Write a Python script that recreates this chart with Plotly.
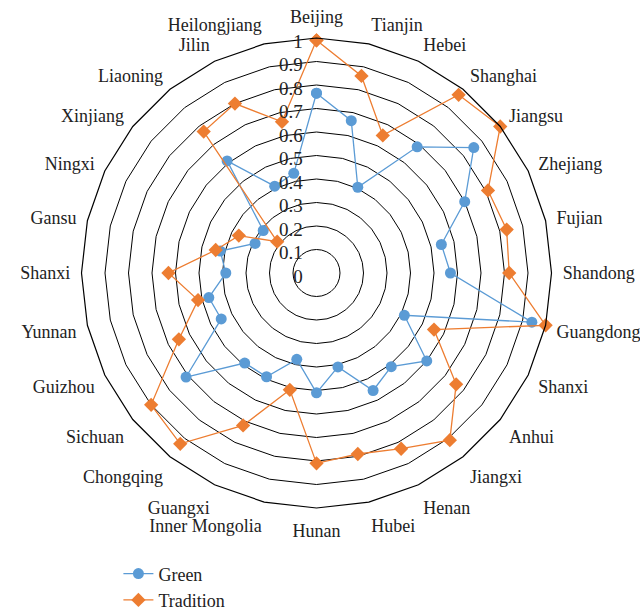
import plotly.graph_objects as go

categories = ["Beijing", "Tianjin", "Hebei", "Shanghai", "Jiangsu", "Zhejiang", "Fujian",
              "Shandong", "Guangdong", "Shanxi ", "Anhui", "Jiangxi", "Henan", "Hubei",
              "Hunan", "Inner Mongolia", "Guangxi", "Chongqing", "Sichuan", "Guizhou",
              "Yunnan", "Shanxi", "Gansu", "Ningxi", "Xinjiang", "Liaoning", "Jilin",
              "Heilongjiang"]

green = [0.765, 0.665, 0.405, 0.687, 0.856, 0.70, 0.545, 0.57, 0.94, 0.415, 0.60, 0.51,
         0.555, 0.41, 0.51, 0.377, 0.49, 0.49, 0.71, 0.45, 0.47, 0.386, 0.42, 0.29,
         0.29, 0.61, 0.41, 0.435]

tradition = [0.99, 0.86, 0.65, 0.97, 1.0, 0.81, 0.83, 0.82, 1.0, 0.555, 0.76, 0.91,
             0.83, 0.79, 0.81, 0.51, 0.72, 0.93, 0.90, 0.65, 0.517, 0.63, 0.44, 0.367,
             0.214, 0.77, 0.80, 0.66]

radial_ticks = [0, 0.1, 0.2, 0.3, 0.4, 0.5, 0.6, 0.7, 0.8, 0.9, 1]

FONT = "Liberation Serif"

fig = go.Figure()
fig.add_trace(go.Scatterpolar(
    r=green + green[:1], theta=categories + categories[:1], name="Green",
    mode="lines+markers",
    line=dict(color="#5B9BD5", width=1.3),
    marker=dict(symbol="circle", size=11, color="#5B9BD5"),
))
fig.add_trace(go.Scatterpolar(
    r=tradition + tradition[:1], theta=categories + categories[:1], name="Tradition",
    mode="lines+markers",
    line=dict(color="#ED7D31", width=1.3),
    marker=dict(symbol="diamond", size=11, color="#ED7D31"),
))

fig.update_layout(
    width=640, height=611,
    margin=dict(l=0, r=0, t=0, b=0, autoexpand=False),
    paper_bgcolor="white", plot_bgcolor="white",
    font=dict(family=FONT, size=18, color="#222"),
    polar=dict(
        domain=dict(x=[81.5 / 640, 551.5 / 640], y=[1 - 508 / 611, 1 - 38 / 611]),
        bgcolor="white",
        gridshape="linear",
        angularaxis=dict(
            direction="clockwise", rotation=90,
            showgrid=False, showline=True, linecolor="black", linewidth=1.2,
            ticks="outside", ticklen=7, tickcolor="rgba(0,0,0,0)",
            tickfont=dict(family=FONT, size=18, color="#222"),
        ),
        radialaxis=dict(
            range=[0, 1], tickvals=radial_ticks, ticktext=[str(v) for v in radial_ticks],
            angle=90, side="counterclockwise", showline=False,
            gridcolor="black", gridwidth=1.2, ticks="",
            tickfont=dict(family=FONT, size=19, color="#222"),
        ),
    ),
    showlegend=True,
    legend=dict(
        orientation="v", x=0.185, y=-0.012, xanchor="left", yanchor="bottom",
        font=dict(family=FONT, size=18, color="#222"),
        bgcolor="rgba(0,0,0,0)",
    ),
)

fig.write_html("out.html")
